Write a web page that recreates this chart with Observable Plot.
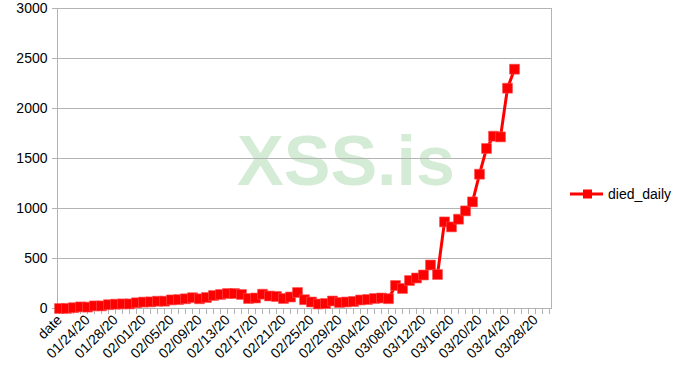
<!DOCTYPE html>
<html>
<head>
<meta charset="utf-8">
<script src="https://cdn.jsdelivr.net/npm/d3@7"></script>
<script src="https://cdn.jsdelivr.net/npm/@observablehq/plot@0.6"></script>
<style>
  html, body { margin: 0; padding: 0; background: #fff; }
  #wrap { position: relative; width: 687px; height: 387px; font-family: "Liberation Sans", Arial, sans-serif; }
  #wm { position: absolute; left: 237px; top: 126px; font: bold 70px/70px "Liberation Sans", Arial, sans-serif; color: #d4ebd5; z-index: 0; white-space: nowrap; }
  #chart { position: absolute; left: 0; top: 0; z-index: 1; }
  #legend { position: absolute; left: 570px; top: 186px; z-index: 2; display: flex; align-items: center; font-size: 14px; color: #000; }
</style>
</head>
<body>
<div id="wrap">
  <div id="wm">XSS.is</div>
  <div id="chart"></div>
  <div id="legend"></div>
</div>
<script>
const categories = ["date",
  "01/21/20","01/22/20","01/23/20","01/24/20","01/25/20","01/26/20","01/27/20","01/28/20","01/29/20","01/30/20","01/31/20",
  "02/01/20","02/02/20","02/03/20","02/04/20","02/05/20","02/06/20","02/07/20","02/08/20","02/09/20","02/10/20",
  "02/11/20","02/12/20","02/13/20","02/14/20","02/15/20","02/16/20","02/17/20","02/18/20","02/19/20","02/20/20",
  "02/21/20","02/22/20","02/23/20","02/24/20","02/25/20","02/26/20","02/27/20","02/28/20","02/29/20",
  "03/01/20","03/02/20","03/03/20","03/04/20","03/05/20","03/06/20","03/07/20","03/08/20","03/09/20","03/10/20",
  "03/11/20","03/12/20","03/13/20","03/14/20","03/15/20","03/16/20","03/17/20","03/18/20","03/19/20","03/20/20",
  "03/21/20","03/22/20","03/23/20","03/24/20","03/25/20","03/26/20","03/27/20","03/28/20","03/29/20","03/30/20"];

const died_daily = [
  0, 1, 8, 16, 14, 26, 26, 38, 43, 46, 46,
  57, 64, 66, 73, 73, 86, 89, 97, 108, 97,
  110, 130, 140, 150, 150, 140, 100, 105, 143, 125,
  120, 100, 115, 160, 88, 65, 45, 50, 75, 60,
  65, 70, 85, 90, 100, 105, 98, 230, 200, 280,
  305, 335, 435, 340, 866, 816, 893, 976, 1066, 1343,
  1600, 1723, 1716, 2203, 2393];

const xTickLabels = ["date","01/24/20","01/28/20","02/01/20","02/05/20","02/09/20","02/13/20","02/17/20",
  "02/21/20","02/25/20","02/29/20","03/04/20","03/08/20","03/12/20","03/16/20","03/20/20","03/24/20","03/28/20"];
const yTicks = [0, 500, 1000, 1500, 2000, 2500, 3000];
const seriesName = "died_daily";
const lineColor = "#ff0000";
const gridColor = "#b3b3b3";

const data = died_daily.map((v, i) => ({cat: categories[i], value: v}));

const chart = Plot.plot({
  width: 687,
  height: 387,
  marginLeft: 57,
  marginRight: 136,
  marginTop: 8,
  marginBottom: 79,
  style: {background: "transparent", fontSize: "14px", fontFamily: "Liberation Sans, Arial, sans-serif", color: "#000"},
  x: {type: "point", domain: categories, padding: 0},
  y: {domain: [0, 3000]},
  marks: [
    Plot.gridY(yTicks, {stroke: gridColor, strokeOpacity: 1}),
    Plot.frame({stroke: gridColor}),
    Plot.axisY({ticks: yTicks, tickSize: 5, tickPadding: 5, stroke: gridColor, tickFormat: d => String(d), label: null, fill: "#000"}),
    Plot.axisX({ticks: categories, tickSize: 6, stroke: gridColor, tickFormat: () => "", label: null}),
    Plot.axisX({ticks: xTickLabels, tickSize: 0, tickPadding: 9, tickRotate: -45, label: null, fill: "#000"}),
    Plot.line(data, {x: "cat", y: "value", stroke: lineColor, strokeWidth: 3}),
    Plot.dot(data, {x: "cat", y: "value", symbol: "square", r: 5.6, fill: lineColor, stroke: "#ff5050", strokeWidth: 0.6})
  ]
});
document.getElementById("chart").appendChild(chart);

// legend
const lg = document.getElementById("legend");
lg.innerHTML = `<svg width="36" height="16" style="display:block"><line x1="0" x2="33" y1="8" y2="8" stroke="${lineColor}" stroke-width="3"/><rect x="13" y="3.5" width="9" height="9" fill="${lineColor}"/></svg><span style="margin-left:2px">${seriesName}</span>`;
</script>
</body>
</html>
